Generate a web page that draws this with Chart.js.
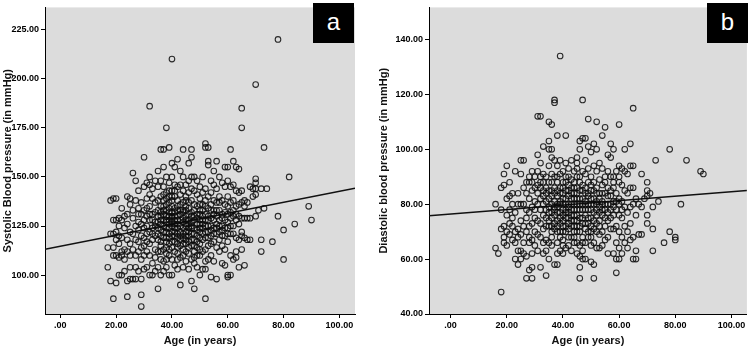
<!DOCTYPE html>
<html lang="en">
<head>
<meta charset="UTF-8">
<title>Blood pressure vs age</title>
<script src="https://cdn.jsdelivr.net/npm/chart.js"></script>
<style>
    body { margin: 0; background: #fff; font-family: 'Liberation Sans', Arial, sans-serif; }
    .wrap { position: relative; width: 752px; height: 349px; }
    .panel { position: absolute; top: 0; width: 376px; height: 349px; }
    .tag { position: absolute; top: 3px; width: 41px; height: 40px; background: #000; color: #fff;
           font: 24px 'Liberation Sans', Arial, sans-serif; text-align: center; line-height: 38px; }
</style>
</head>
<body>
<div class="wrap">
    <div class="panel" style="left:0"><canvas id="chartA" width="376" height="349"></canvas></div>
    <div class="panel" style="left:376px"><canvas id="chartB" width="376" height="349"></canvas></div>
    <div class="tag" style="left:313px">a</div>
    <div class="tag" style="left:707px">b</div>
</div>

<script>
// panel a: [age, systolic]
const systolic = [
    [17,104],[17,114],[18,97],[18,138],[18,121],
    [19,88],[19,121],[19,110],[19,128],[19,139],[19,114],
    [20,96],[20,128],[20,122],[20,110],[20,118],[20,139],
    [21,129],[21,120],[21,109],[21,116],[21,125],[21,100],
    [22,110],[22,134],[22,100],[22,119],[22,112],[22,128],
    [23,124],[23,113],[23,102],[23,130],[23,108],
    [24,89],[24,97],[24,140],[24,131],[24,118],[24,126],[24,112],
    [25,139],[25,104],[25,122],[25,136],[25,110],[25,98],[25,116],
    [26,152],[26,98],[26,129],[26,113],[26,121],[26,133],
    [27,148],[27,104],[27,118],[27,138],[27,125],[27,110],[27,98],
    [28,143],[28,131],[28,123],[28,112],[28,117],[28,102],[28,134],[28,127],
    [29,84],[29,90],[29,98],[29,120],[29,137],[29,126],[29,114],[29,108],[29,131],
    [30,160],[30,145],[30,103],[30,115],[30,124],[30,133],[30,128],[30,110],[30,119],
    [31,147],[31,125],[31,139],[31,112],[31,104],[31,121],[31,130],[31,117],[31,134],
    [32,186],[32,150],[32,146],[32,135],[32,128],[32,122],[32,116],[32,110],[32,100],[32,141],[32,131],
    [33,139],[33,131],[33,124],[33,118],[33,106],[33,100],[33,144],[33,128],[33,121],
    [34,137],[34,127],[34,120],[34,113],[34,102],[34,132],[34,148],[34,109],[34,125],
    [35,153],[35,93],[35,130],[35,124],[35,118],[35,112],[35,104],[35,138],[35,145],[35,127],[35,121],[35,133],
    [36,164],[36,148],[36,140],[36,132],[36,126],[36,120],[36,115],[36,108],[36,100],[36,135],[36,128],[36,123],[36,130],[36,117],[36,112],
    [37,164],[37,155],[37,145],[37,138],[37,131],[37,125],[37,119],[37,113],[37,107],[37,102],[37,133],[37,128],[37,122],[37,135],[37,141],
    [38,175],[38,150],[38,142],[38,136],[38,130],[38,127],[38,122],[38,117],[38,111],[38,104],[38,128],[38,133],[38,139],[38,124],[38,119],[38,114],[38,108],
    [39,165],[39,147],[39,140],[39,134],[39,130],[39,126],[39,121],[39,116],[39,110],[39,100],[39,124],[39,137],[39,128],[39,132],[39,119],[39,113],[39,143],
    [40,210],[40,157],[40,150],[40,143],[40,138],[40,132],[40,129],[40,125],[40,120],[40,114],[40,108],[40,100],[40,127],[40,135],[40,122],[40,117],[40,130],[40,140],
    [41,155],[41,146],[41,140],[41,134],[41,130],[41,126],[41,122],[41,117],[41,112],[41,105],[41,128],[41,120],[41,124],[41,132],[41,143],
    [42,159],[42,145],[42,138],[42,133],[42,128],[42,124],[42,119],[42,114],[42,108],[42,103],[42,126],[42,130],[42,121],[42,116],[42,135],[42,111],
    [43,153],[43,141],[43,136],[43,131],[43,125],[43,120],[43,115],[43,109],[43,95],[43,128],[43,122],[43,118],[43,133],[43,146],
    [44,164],[44,150],[44,143],[44,137],[44,132],[44,127],[44,121],[44,116],[44,110],[44,104],[44,133],[44,124],[44,119],[44,129],[44,113],
    [45,146],[45,140],[45,135],[45,130],[45,125],[45,120],[45,116],[45,112],[45,107],[45,126],[45,128],[45,122],[45,118],[45,133],[45,138],
    [46,157],[46,148],[46,142],[46,137],[46,131],[46,126],[46,122],[46,117],[46,111],[46,103],[46,128],[46,120],[46,124],[46,134],[46,114],
    [47,164],[47,160],[47,150],[47,144],[47,138],[47,132],[47,127],[47,121],[47,115],[47,97],[47,108],[47,124],[47,118],[47,125],[47,130],
    [48,150],[48,143],[48,136],[48,130],[48,124],[48,118],[48,112],[48,93],[48,106],[48,128],[48,121],[48,115],[48,133],[48,109],
    [49,148],[49,141],[49,135],[49,129],[49,123],[49,117],[49,110],[49,104],[49,126],[49,120],[49,131],[49,114],
    [50,145],[50,139],[50,133],[50,128],[50,122],[50,116],[50,110],[50,100],[50,126],[50,131],[50,119],[50,124],[50,136],[50,113],
    [51,150],[51,142],[51,136],[51,130],[51,124],[51,118],[51,112],[51,103],[51,128],[51,121],[51,126],[51,133],
    [52,167],[52,165],[52,88],[52,144],[52,138],[52,131],[52,125],[52,119],[52,113],[52,107],[52,103],[52,128],[52,122],[52,135],
    [53,165],[53,158],[53,156],[53,140],[53,134],[53,128],[53,122],[53,115],[53,108],[53,130],[53,125],[53,119],
    [54,148],[54,142],[54,136],[54,129],[54,123],[54,116],[54,110],[54,99],[54,125],[54,120],[54,133],
    [55,153],[55,146],[55,138],[55,131],[55,124],[55,117],[55,107],[55,133],[55,121],[55,128],
    [56,158],[56,144],[56,137],[56,130],[56,121],[56,114],[56,98],[56,126],[56,124],[56,133],
    [57,150],[57,140],[57,133],[57,125],[57,118],[57,112],[57,128],[57,122],[57,137],
    [58,147],[58,138],[58,131],[58,123],[58,115],[58,106],[58,129],[58,125],[58,120],
    [59,155],[59,145],[59,136],[59,128],[59,120],[59,113],[59,105],[59,132],[59,124],
    [60,155],[60,148],[60,140],[60,131],[60,124],[60,117],[60,99],[60,100],[60,135],[60,127],[60,121],
    [61,164],[61,145],[61,137],[61,129],[61,121],[61,110],[61,100],[61,132],[61,125],
    [62,158],[62,146],[62,138],[62,130],[62,121],[62,108],[62,125],[62,133],
    [63,155],[63,143],[63,135],[63,128],[63,119],[63,112],[63,109],[63,131],
    [64,154],[64,142],[64,136],[64,126],[64,118],[64,104],[64,130],
    [65,185],[65,175],[65,143],[65,137],[65,129],[65,122],[65,113],[65,120],
    [66,138],[66,129],[66,119],[66,105],[66,135],
    [67,137],[67,129],[67,118],[68,145],[68,129],[68,118],[69,144],[69,140],
    [70,197],[70,149],[70,147],[70,144],[70,141],[70,130],[71,133],
    [72,144],[72,118],[72,112],[73,165],[73,134],[74,144],[76,117],
    [78,220],[78,130],[80,123],[80,108],[82,150],[84,126],[89,135],[90,128]
];

// panel b: [age, diastolic]
const diastolic = [
    [16,64],[16,80],[17,62],[18,48],[18,78],[18,86],[18,71],
    [19,87],[19,91],[19,66],[19,68],[19,72],
    [20,94],[20,70],[20,82],[20,76],[20,65],
    [21,83],[21,73],[21,69],[21,88],[21,78],
    [22,72],[22,80],[22,67],[22,84],[22,75],
    [23,60],[23,70],[23,77],[23,92],[23,66],
    [24,63],[24,58],[24,84],[24,71],[24,80],[24,68],
    [25,96],[25,91],[25,63],[25,80],[25,74],[25,69],[25,60],
    [26,96],[26,86],[26,72],[26,80],[26,66],[26,62],
    [27,53],[27,88],[27,78],[27,70],[27,84],[27,61],[27,75],
    [28,56],[28,66],[28,88],[28,82],[28,77],[28,72],[28,68],[28,90],
    [29,57],[29,53],[29,92],[29,85],[29,79],[29,73],[29,67],[29,62],[29,88],
    [30,90],[30,81],[30,75],[30,70],[30,65],[30,86],[30,78],
    [31,112],[31,98],[31,92],[31,87],[31,80],[31,74],[31,69],[31,63],[31,84],
    [32,112],[32,95],[32,90],[32,86],[32,82],[32,78],[32,73],[32,68],[32,57],[32,88],
    [33,101],[33,91],[33,85],[33,80],[33,76],[33,71],[33,66],[33,62],[33,88],[33,83],
    [34,54],[34,90],[34,84],[34,78],[34,72],[34,67],[34,63],[34,81],[34,75],[34,86],
    [35,110],[35,100],[35,103],[35,94],[35,88],[35,82],[35,77],[35,72],[35,66],[35,60],[35,85],[35,79],[35,74],
    [36,109],[36,100],[36,97],[36,91],[36,85],[36,80],[36,75],[36,70],[36,65],[36,88],[36,83],[36,77],[36,72],[36,68],
    [37,118],[37,117],[37,96],[37,90],[37,86],[37,81],[37,76],[37,71],[37,58],[37,78],[37,84],[37,79],[37,73],
    [38,105],[38,94],[38,88],[38,83],[38,79],[38,74],[38,70],[38,62],[38,58],[38,85],[38,80],[38,77],[38,72],[38,90],[38,66],
    [39,134],[39,96],[39,91],[39,86],[39,81],[39,77],[39,73],[39,68],[39,63],[39,80],[39,84],[39,75],[39,70],
    [40,92],[40,88],[40,84],[40,80],[40,76],[40,72],[40,67],[40,62],[40,78],[40,82],[40,86],[40,74],[40,70],[40,65],
    [41,105],[41,95],[41,90],[41,85],[41,80],[41,75],[41,70],[41,64],[41,78],[41,82],[41,77],[41,72],[41,88],
    [42,93],[42,87],[42,83],[42,79],[42,75],[42,71],[42,65],[42,80],[42,90],[42,77],[42,73],[42,85],[42,68],
    [43,96],[43,89],[43,84],[43,80],[43,76],[43,72],[43,68],[43,63],[43,78],[43,82],[43,74],[43,86],
    [44,92],[44,86],[44,82],[44,78],[44,74],[44,70],[44,66],[44,80],[44,88],[44,76],[44,72],[44,84],[44,68],
    [45,97],[45,93],[45,90],[45,86],[45,82],[45,80],[45,78],[45,74],[45,70],[45,66],[45,62],[45,95],[45,84],[45,76],[45,72],
    [46,103],[46,100],[46,53],[46,57],[46,90],[46,85],[46,80],[46,75],[46,70],[46,65],[46,61],[46,82],[46,78],[46,72],[46,88],
    [47,118],[47,104],[47,92],[47,87],[47,82],[47,78],[47,73],[47,68],[47,63],[47,60],[47,80],[47,75],[47,85],[47,66],
    [48,104],[48,96],[48,91],[48,86],[48,81],[48,76],[48,71],[48,66],[48,60],[48,80],[48,78],[48,73],[48,84],
    [49,111],[49,101],[49,93],[49,88],[49,83],[49,78],[49,73],[49,68],[49,84],[49,80],[49,75],[49,70],
    [50,99],[50,90],[50,85],[50,80],[50,75],[50,70],[50,65],[50,59],[50,82],[50,78],[50,72],[50,87],[50,68],
    [51,102],[51,53],[51,94],[51,88],[51,82],[51,77],[51,71],[51,66],[51,58],[51,80],[51,74],[51,85],
    [52,110],[52,100],[52,92],[52,86],[52,81],[52,76],[52,70],[52,64],[52,80],[52,78],[52,73],[52,84],
    [53,95],[53,89],[53,84],[53,79],[53,74],[53,69],[53,64],[53,82],[53,77],[53,72],
    [54,105],[54,93],[54,87],[54,81],[54,76],[54,70],[54,65],[54,80],[54,78],[54,84],
    [55,108],[55,90],[55,84],[55,78],[55,72],[55,67],[55,88],[55,80],[55,75],
    [56,98],[56,92],[56,86],[56,80],[56,74],[56,68],[56,62],[56,77],[56,83],
    [57,102],[57,97],[57,90],[57,85],[57,80],[57,75],[57,71],[57,83],[57,78],
    [58,100],[58,90],[58,86],[58,81],[58,76],[58,71],[58,62],[58,88],[58,79],
    [59,92],[59,84],[59,78],[59,72],[59,66],[59,60],[59,55],[59,81],
    [60,109],[60,94],[60,88],[60,82],[60,76],[60,70],[60,64],[60,60],[60,90],[60,80],
    [61,93],[61,87],[61,81],[61,75],[61,68],[61,62],[61,78],
    [62,100],[62,92],[62,85],[62,79],[62,72],[62,66],
    [63,91],[63,84],[63,77],[63,70],[63,64],
    [64,102],[64,94],[64,86],[64,79],[64,73],[64,67],
    [65,115],[65,94],[65,86],[65,80],[65,68],[65,60],
    [66,82],[66,76],[66,63],[66,60],[67,80],[67,69],[68,91],[68,79],[68,69],[69,82],
    [70,88],[70,85],[70,76],[70,73],[70,83],[71,84],[72,79],[72,71],[72,63],[73,96],[74,81],
    [76,66],[78,100],[78,70],[80,68],[80,67],[82,80],[84,96],[89,92],[90,91]
];

// fit line values at the left and right edge of each plot
const fitA = [113.2, 144.2];
const fitB = [75.8, 85.0];

const ageTicks = [0, 20, 40, 60, 80, 100];
const sysTicks = [100, 125, 150, 175, 200, 225];
const diaTicks = [40, 60, 80, 100, 120, 140];

const rangeA = { xMin: -5.5, xMax: 105.6, yMin: 80.2, yMax: 236.3 };
const rangeB = { xMin: -7.7, xMax: 105.5, yMin: 40, yMax: 151.7 };

const tickFont = { family: "'Liberation Sans Narrow', 'Liberation Sans', Arial", size: 9, weight: 'bold' };
const titleFont = { family: "'Liberation Sans', Arial", size: 11, weight: 'bold' };

function fmt(v) {
    return v === 0 ? '.00' : v.toFixed(2);
}

// gray plot background
const plotBg = {
    id: 'plotBg',
    beforeDraw(chart) {
        const a = chart.chartArea;
        chart.ctx.save();
        chart.ctx.fillStyle = '#dcdcdc';
        chart.ctx.fillRect(a.left, a.top, a.right - a.left, a.bottom - a.top);
        chart.ctx.restore();
    }
};

function makeChart(id, pts, fit, range, yTicks, yTitle, leftW, rightPad) {
    new Chart(document.getElementById(id), {
        type: 'scatter',
        data: {
            datasets: [{
                data: pts.map(p => ({ x: p[0], y: p[1] })),
                pointStyle: 'circle',
                pointRadius: 2.8,
                borderWidth: 1.1,
                borderColor: 'rgba(10,10,10,0.85)',
                backgroundColor: 'rgba(0,0,0,0)'
            }, {
                data: [{ x: range.xMin, y: fit[0] }, { x: range.xMax, y: fit[1] }],
                showLine: true,
                pointRadius: 0,
                borderColor: '#111',
                borderWidth: 1.5
            }]
        },
        options: {
            responsive: false,
            animation: false,
            layout: { padding: { top: 2, right: rightPad, left: 0, bottom: 0 } },
            plugins: { legend: { display: false }, tooltip: { enabled: false } },
            scales: {
                x: {
                    type: 'linear', min: range.xMin, max: range.xMax,
                    afterBuildTicks: s => { s.ticks = ageTicks.map(v => ({ value: v })); },
                    afterFit: s => { s.height = 35; },
                    ticks: { font: tickFont, color: '#000', padding: 2, maxRotation: 0, callback: fmt },
                    grid: { drawOnChartArea: false, tickLength: 4, color: '#000' },
                    border: { color: '#000', width: 1 },
                    title: { display: true, text: 'Age (in years)', font: titleFont, color: '#111', padding: { top: 0, bottom: 1 } }
                },
                y: {
                    type: 'linear', min: range.yMin, max: range.yMax,
                    afterBuildTicks: s => { s.ticks = yTicks.map(v => ({ value: v })); },
                    afterFit: s => { s.width = leftW; },
                    ticks: { font: tickFont, color: '#000', padding: 2, callback: fmt },
                    grid: { drawOnChartArea: false, tickLength: 4, color: '#000' },
                    border: { color: '#000', width: 1 },
                    title: { display: true, text: yTitle, font: titleFont, color: '#111', padding: { top: 1, bottom: 0 } }
                }
            }
        },
        plugins: [plotBg]
    });
}

makeChart('chartA', systolic, fitA, rangeA, sysTicks, 'Systolic Blood pressure (in mmHg)', 45, 21);
makeChart('chartB', diastolic, fitB, rangeB, diaTicks, 'Diastolic blood pressure (in mmHg)', 53, 3);
</script>
</body>
</html>
